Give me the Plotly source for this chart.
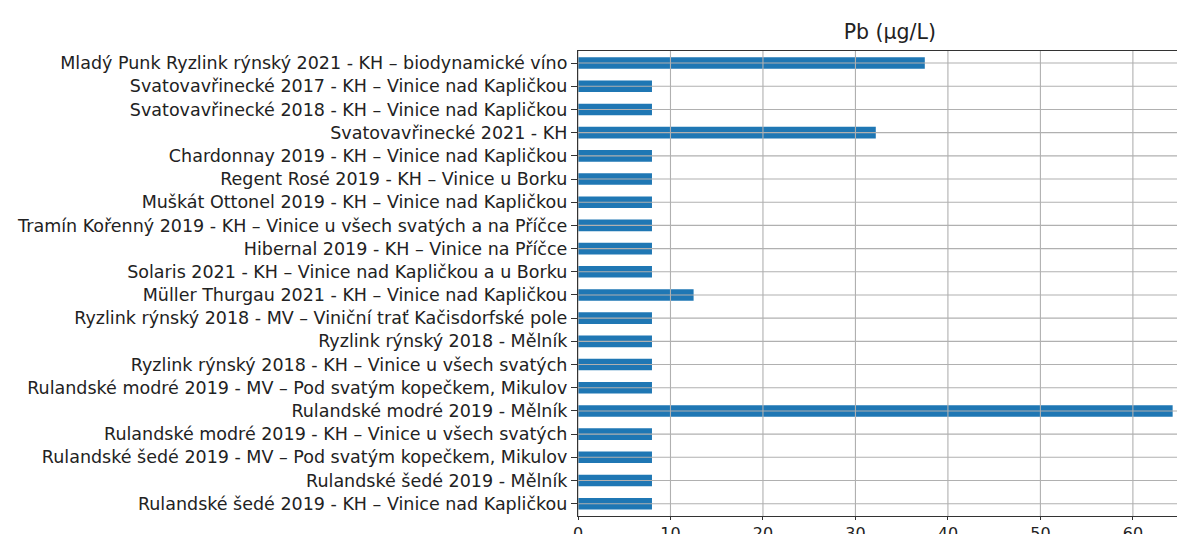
import plotly.graph_objects as go

categories = [
    "Mladý Punk Ryzlink rýnský 2021 - KH – biodynamické víno",
    "Svatovavřinecké 2017 - KH – Vinice nad Kapličkou",
    "Svatovavřinecké 2018 - KH – Vinice nad Kapličkou",
    "Svatovavřinecké 2021 - KH",
    "Chardonnay 2019 - KH – Vinice nad Kapličkou",
    "Regent Rosé 2019 - KH – Vinice u Borku",
    "Muškát Ottonel 2019 - KH – Vinice nad Kapličkou",
    "Tramín Kořenný 2019 - KH – Vinice u všech svatých a na Příčce",
    "Hibernal 2019 - KH – Vinice na Příčce",
    "Solaris 2021 - KH – Vinice nad Kapličkou a u Borku",
    "Müller Thurgau 2021 - KH – Vinice nad Kapličkou",
    "Ryzlink rýnský 2018 - MV – Viniční trať Kačisdorfské pole",
    "Ryzlink rýnský 2018 - Mělník",
    "Ryzlink rýnský 2018 - KH – Vinice u všech svatých",
    "Rulandské modré 2019 - MV – Pod svatým kopečkem, Mikulov",
    "Rulandské modré 2019 - Mělník",
    "Rulandské modré 2019 - KH – Vinice u všech svatých",
    "Rulandské šedé 2019 - MV – Pod svatým kopečkem, Mikulov",
    "Rulandské šedé 2019 - Mělník",
    "Rulandské šedé 2019 - KH – Vinice nad Kapličkou",
]
pb_values = [37.5, 8.0, 8.0, 32.2, 8.0, 8.0, 8.0, 8.0, 8.0, 8.0,
             12.5, 8.0, 8.0, 8.0, 8.0, 64.3, 8.0, 8.0, 8.0, 8.0]
x_ticks = [0, 10, 20, 30, 40, 50, 60]
title_text = "Pb (μg/L)"

W, H = 1185, 534
ML, MR, MT, MB = 570, 0, 43, 26
FONT = "DejaVu Sans"
GRID = "#b0b0b0"
FS = 17.5

fig = go.Figure()
fig.add_trace(go.Bar(
    x=pb_values, y=categories, orientation="h",
    width=0.5, marker=dict(color="#1f77b4", line=dict(width=0)),
    showlegend=False, hoverinfo="x+y",
))

n = len(categories)
shapes = []
# grid lines drawn over the bars (as in the reference)
for t in x_ticks:
    shapes.append(dict(type="line", xref="x", yref="paper", x0=t, x1=t, y0=0, y1=1,
                       line=dict(color=GRID, width=1.1), layer="above"))
for c in categories:
    shapes.append(dict(type="line", xref="paper", yref="y", x0=0, x1=1, y0=c, y1=c,
                       line=dict(color=GRID, width=1.1), layer="above"))

fig.update_layout(
    width=W, height=H,
    margin=dict(l=ML, r=MR, t=MT, b=MB, pad=0),
    paper_bgcolor="white", plot_bgcolor="white",
    font=dict(family=FONT, size=FS, color="#222222"),
    title=dict(text=title_text, font=dict(family=FONT, size=20.5, color="#222222"),
               xref="paper", x=0.507, xanchor="center",
               yref="container", y=1 - 24 / H, yanchor="middle"),
    shapes=shapes,
    bargap=0.5,
)
fig.update_xaxes(
    range=[0, 66.5], tickvals=x_ticks, ticktext=[str(t) for t in x_ticks],
    showgrid=False, zeroline=False,
    showline=True, linecolor="#333333", linewidth=1.2, mirror=True,
    ticks="outside", ticklen=3, tickwidth=1.1, tickcolor="#333333",
    tickfont=dict(family=FONT, size=16, color="#222222"),
)
fig.update_yaxes(
    type="category", categoryorder="array", categoryarray=categories,
    range=[n - 0.5 + 0.03, -0.52],
    showgrid=False, zeroline=False,
    showline=True, linecolor="#333333", linewidth=1.2, mirror=False,
    ticks="outside", ticklen=6, tickwidth=1.1, tickcolor="#333333",
    tickfont=dict(family=FONT, size=FS, color="#222222"),
)

fig.write_html("out.html")
